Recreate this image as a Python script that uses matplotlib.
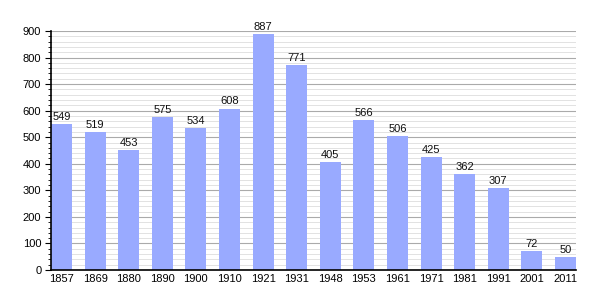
import matplotlib
matplotlib.use("Agg")
import matplotlib.pyplot as plt
from matplotlib.ticker import MultipleLocator

plt.rcParams["font.family"] = ["Liberation Sans", "DejaVu Sans"]

years = ["1857", "1869", "1880", "1890", "1900", "1910", "1921", "1931", "1948",
         "1953", "1961", "1971", "1981", "1991", "2001", "2011"]
population = [549, 519, 453, 575, 534, 608, 887, 771, 405, 566, 506, 425, 362, 307, 72, 50]

fig = plt.figure(figsize=(6.05, 3.0), dpi=100)
ax = fig.add_axes([51/605, 30/300, 525/605, 239/300])

w = 0.625
x = list(range(len(years)))
ax.bar(x, population, width=w, color="#99aaff", zorder=3)
for xi, v in zip(x, population):
    ax.text(xi, v + 8, str(v), ha="center", va="bottom", fontsize=8, color="#111111", zorder=4)

ax.set_xlim(-w/2, len(years) - 1 + w/2)
ax.set_ylim(0, 900)
ax.yaxis.set_major_locator(MultipleLocator(100))
ax.yaxis.set_minor_locator(MultipleLocator(20))
ax.grid(which="major", axis="y", color="#aaaaaa", linewidth=0.8, zorder=1)
ax.grid(which="minor", axis="y", color="#dddddd", linewidth=0.6, zorder=1)
ax.set_xticks(x)
ax.set_xticklabels(years)
ax.tick_params(axis="x", length=0, labelsize=8, pad=3)
ax.tick_params(axis="y", which="major", length=4, labelsize=8, pad=3)
ax.tick_params(axis="y", which="minor", length=2)
for s in ["top", "right"]:
    ax.spines[s].set_visible(False)
for s in ["left", "bottom"]:
    ax.spines[s].set_linewidth(1.2)
    ax.spines[s].set_zorder(5)

fig.savefig("out.png", dpi=100)
